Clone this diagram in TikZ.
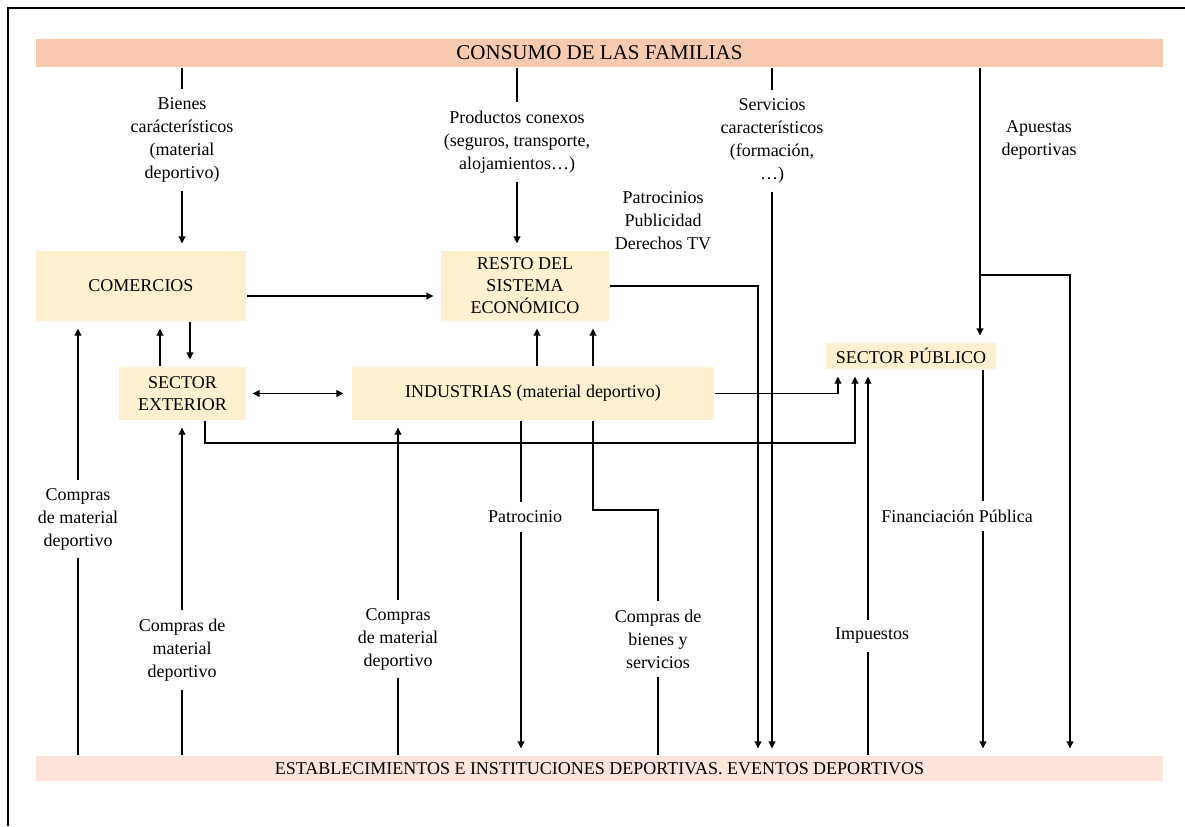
\documentclass[tikz,border=0pt]{standalone}
\usepackage{fontspec}
\setmainfont{Liberation Serif}
\usetikzlibrary{arrows.meta}
\definecolor{bandtop}{RGB}{247,201,174}
\definecolor{bandbot}{RGB}{252,228,218}
\definecolor{boxfill}{RGB}{253,240,206}
\begin{document}
\begin{tikzpicture}[x=0.5pt,y=-0.5pt,line width=0.6pt]
	\tikzstyle{band}=[inner sep=0pt, minimum width=563.5pt]
	\tikzstyle{box}=[fill=boxfill, inner sep=0pt, align=center, font=\fontsize{9}{11}\selectfont]
	\tikzstyle{lbl}=[align=center, inner sep=4pt, font=\fontsize{9}{11.5}\selectfont]
	\tikzstyle{flow}=[-{Triangle[length=3.5pt,width=3.4pt]}, shorten >=3.5pt]
	\tikzstyle{both}=[{Triangle[length=3.5pt,width=3.4pt]}-{Triangle[length=3.5pt,width=3.4pt]}, shorten <=3pt, shorten >=4pt]
	\useasboundingbox (0,0) rectangle (1185,826);
	\draw [line width=1pt] (8,826) -- (8,8) -- (1185,8);
	\node [band, fill=bandtop, minimum height=14pt, font=\fontsize{10.5}{12}\selectfont] (consumo) at (599.5,53) {CONSUMO DE LAS FAMILIAS};
	\node [band, fill=bandbot, minimum height=12.5pt, font=\fontsize{9}{11}\selectfont] (estab) at (599.5,768.5) {ESTABLECIMIENTOS E INSTITUCIONES DEPORTIVAS. EVENTOS DEPORTIVOS};
	\node [box, minimum width=105pt, minimum height=35pt] (comercios) at (141,286) {COMERCIOS};
	\node [box, minimum width=63.5pt, minimum height=26.5pt] (exterior) at (182.5,393.5) {SECTOR\\EXTERIOR};
	\node [box, minimum width=84pt, minimum height=35pt] (resto) at (525,286) {RESTO DEL\\SISTEMA\\ECONÓMICO};
	\node [box, minimum width=181pt, minimum height=26.5pt] (industrias) at (533,393.5) {INDUSTRIAS (material deportivo)};
	\node [box, minimum width=85pt, minimum height=13pt] (publico) at (911,356) {SECTOR PÚBLICO};
	\node [lbl] (bienes) at (182,140) {Bienes\\carácterísticos\\(material\\deportivo)};
	\node [lbl] (conexos) at (517,142) {Productos conexos\\(seguros, transporte,\\alojamientos…)};
	\node [lbl] (servicios) at (772,141) {Servicios\\característicos\\(formación,\\…)};
	\node [lbl] (patrocinios) at (663,221) {Patrocinios\\Publicidad\\Derechos TV};
	\node [lbl] (apuestas) at (1039,140) {Apuestas\\deportivas};
	\node [lbl] (compras1) at (78,519) {Compras\\de material\\deportivo};
	\node [lbl] (compras2) at (182,650) {Compras de\\material\\deportivo};
	\node [lbl] (compras3) at (398,639) {Compras\\de material\\deportivo};
	\node [lbl] (patrocinio) at (525,517) {Patrocinio};
	\node [lbl] (byservicios) at (658,639) {Compras de\\bienes y\\servicios};
	\node [lbl] (impuestos) at (872,636) {Impuestos};
	\node [lbl] (financiacion) at (957,516) {Financiación Pública};
	\draw (consumo.south -| bienes) -- (bienes.north);
	\draw [flow] (bienes.south) -- (bienes.south |- comercios.north);
	\draw (consumo.south -| conexos) -- (conexos.north);
	\draw [flow] (conexos.south) -- (conexos.south |- resto.north);
	\draw (consumo.south -| servicios) -- (servicios.north);
	\draw [flow] (servicios.south) -- (servicios.south |- estab.north);
	\draw [flow] (980,0 |- consumo.south) -- (980,0 |- publico.north);
	\coordinate (split) at (980,275);
	\draw [flow] (split) -| (1070,0 |- estab.north);
	\draw [flow] (comercios.east |- 0,296) -- (resto.west |- 0,296);
	\draw [flow] (160,0 |- exterior.north) -- (160,0 |- comercios.south);
	\draw [flow] (190,0 |- comercios.south) -- (190,0 |- exterior.north);
	\draw [both] (exterior.east) -- (industrias.west);
	\draw [flow] (537,0 |- industrias.north) -- (537,0 |- resto.south);
	\draw [flow] (593,0 |- industrias.north) -- (593,0 |- resto.south);
	\draw [flow] (resto.east) -| (758,0 |- estab.north);
	\draw [flow] (industrias.east) -| (838,0 |- publico.south);
	\draw [flow] (205,0 |- exterior.south) |- (855,443) -- (855,0 |- publico.south);
	\draw (868,0 |- estab.north) -- (868,0 |- impuestos.south);
	\draw [flow] (868,0 |- impuestos.north) -- (868,0 |- publico.south);
	\draw (983,0 |- publico.south) -- (983,0 |- financiacion.north);
	\draw [flow] (983,0 |- financiacion.south) -- (983,0 |- estab.north);
	\draw (estab.north -| compras1) -- (compras1.south);
	\draw [flow] (compras1.north) -- (compras1.north |- comercios.south);
	\draw (estab.north -| compras2) -- (compras2.south);
	\draw [flow] (compras2.north) -- (compras2.north |- exterior.south);
	\draw (estab.north -| compras3) -- (compras3.south);
	\draw [flow] (compras3.north) -- (compras3.north |- industrias.south);
	\draw (521,0 |- industrias.south) -- (521,0 |- patrocinio.north);
	\draw [flow] (521,0 |- patrocinio.south) -- (521,0 |- estab.north);
	\draw (593,0 |- industrias.south) |- (658,510) -- (658,0 |- byservicios.north);
	\draw (byservicios.south) -- (byservicios.south |- estab.north);
\end{tikzpicture}
\end{document}
